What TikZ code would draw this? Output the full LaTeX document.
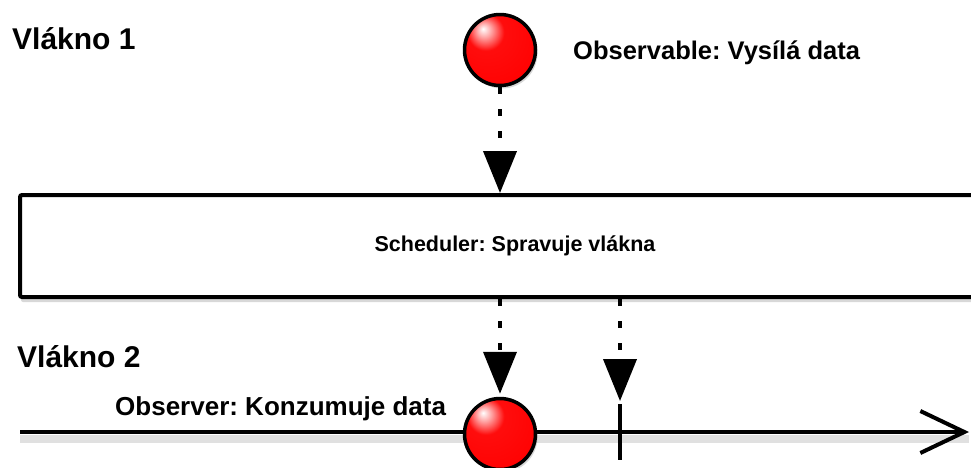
\documentclass[tikz,border=0pt]{standalone}
\usepackage{fontspec}
\setmainfont{Liberation Sans}
\frenchspacing
\usetikzlibrary{arrows.meta,shadows,calc}
\pgfdeclareradialshading{redball}{\pgfpoint{-12bp}{15bp}}{%
  color(0bp)=(white);
  color(5bp)=(red!35!white);
  color(13bp)=(red!95!white);
  color(40bp)=(red);
  color(62bp)=(red!80!black);
  color(80bp)=(red!75!black)}
\begin{document}
\begin{tikzpicture}[x=1pt,y=-1pt,
  ballnode/.style={circle, draw=black, line width=3.5pt, minimum size=71pt, inner sep=0pt,
    shading=redball,
    drop shadow={opacity=0.3,shadow xshift=2pt,shadow yshift=-3pt}},
  bigtxt/.style={font=\bfseries\fontsize{30}{36}\selectfont, anchor=base west, inner sep=0pt},
  midtxt/.style={font=\bfseries\fontsize{25.5}{30}\selectfont, anchor=base west, inner sep=0pt},
  flow/.style={line width=4pt, dash pattern=on 7pt off 15pt, -{Triangle[width=33pt,length=42pt]}},
  schedbox/.style={draw=black, fill=white, line width=4pt, rounded corners=2pt,
    minimum width=990pt, minimum height=102pt, inner sep=0pt,
    font=\bfseries\fontsize{21.5}{26}\selectfont,
    drop shadow={opacity=0.3,shadow xshift=1pt,shadow yshift=-5pt}},
  thick line/.style={line width=4pt, draw=black}
]
\useasboundingbox (0,0) rectangle (971,467);
\clip (0,0) rectangle (971,467);
\fill[white] (0,0) rectangle (971,467);

% labels
\node[bigtxt] (v1) at (12,49) {Vlákno 1};
\node[bigtxt] (v2) at (17,367) {Vlákno 2};
\node[midtxt] (obstxt) at (573,59) {Observable: Vysílá data};
\node[midtxt, font=\bfseries\fontsize{26}{30}\selectfont] (constxt) at (115,415) {Observer: Konzumuje data};

% scheduler box
\node[schedbox] (sched) at (515,246) {Scheduler: Spravuje vlákna};

% timeline
\coordinate (tlstart) at (20,432);
\coordinate (tlend) at (969,432);
\draw[line width=8pt, black, opacity=0.12] ([yshift=-7pt]tlstart) -- ([yshift=-7pt]tlend);
\draw[thick line, -{Straight Barb[length=44pt,width=42pt]}] (tlstart) -- (tlend);

% tick
\coordinate (tickA) at (620,404);
\coordinate (tickB) at (620,460);
\draw[thick line] (tickA) -- (tickB);

% balls
\node[ballnode] (obs) at (500,50) {};
\node[ballnode] (cons) at (500,434) {};

% flows
\draw[flow] (obs.south) -- (sched.north -| obs.south);
\draw[flow, shorten >=3pt] (sched.south -| cons.north) -- (cons.north);
\draw[flow, shorten >=3pt] (sched.south -| tickA) -- (tickA);
\end{tikzpicture}
\end{document}
